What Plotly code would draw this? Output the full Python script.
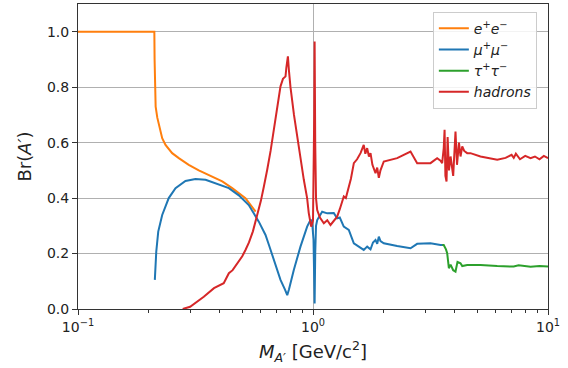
import plotly.graph_objects as go

# ---- data (mass in GeV, branching ratio) ----
ee_m = [0.1, 0.2113, 0.2118, 0.2125, 0.214, 0.2175, 0.2208, 0.2282, 0.2357, 0.2516,
        0.2685, 0.296, 0.3266, 0.3722, 0.411, 0.453, 0.516, 0.57]
ee_br = [1.0, 1.0, 0.90, 0.80, 0.73, 0.69, 0.664, 0.616, 0.592, 0.562,
         0.544, 0.52, 0.50, 0.478, 0.46, 0.436, 0.40, 0.351]

mu_m = [0.2123, 0.2153, 0.2195, 0.2282, 0.2433, 0.26, 0.2866, 0.316, 0.349, 0.3847,
        0.4385, 0.4835, 0.533, 0.588, 0.628, 0.65, 0.6815, 0.7273, 0.76, 0.777,
        0.79, 0.8285, 0.8845, 0.9443, 0.975, 0.99, 1.005, 1.012, 1.016, 1.022,
        1.03, 1.042, 1.094, 1.15, 1.226, 1.267, 1.30, 1.352, 1.42, 1.492,
        1.593, 1.644, 1.70, 1.757, 1.80, 1.845, 1.876, 1.906, 1.937, 2.001,
        2.281, 2.60, 2.775, 3.162, 3.489, 3.604]
mu_br = [0.105, 0.207, 0.279, 0.339, 0.40, 0.436, 0.462, 0.469, 0.466, 0.454,
         0.436, 0.41, 0.375, 0.315, 0.267, 0.23, 0.177, 0.105, 0.07, 0.05,
         0.07, 0.141, 0.225, 0.297, 0.321, 0.32, 0.25, 0.05, 0.02, 0.2,
         0.30, 0.321, 0.351, 0.345, 0.346, 0.327, 0.33, 0.297, 0.285, 0.237,
         0.22, 0.213, 0.225, 0.215, 0.24, 0.249, 0.235, 0.261, 0.245, 0.237,
         0.227, 0.219, 0.235, 0.237, 0.231, 0.231]

tau_m = [3.55, 3.60, 3.68, 3.724, 3.76, 3.786, 3.85, 3.95, 4.04, 4.12,
         4.244, 4.316, 4.531, 5.16, 6.08, 7.15, 7.5, 8.43, 9.2, 10.0]
tau_br = [0.231, 0.231, 0.215, 0.201, 0.17, 0.147, 0.16, 0.14, 0.135, 0.17,
          0.165, 0.155, 0.159, 0.159, 0.155, 0.153, 0.158, 0.152, 0.155, 0.153]

had_m = [0.279, 0.30, 0.343, 0.379, 0.417, 0.43, 0.4385, 0.455, 0.476, 0.50,
         0.516, 0.534, 0.555, 0.575, 0.59, 0.60, 0.618, 0.625, 0.6385, 0.66,
         0.6815, 0.70, 0.7273, 0.745, 0.764, 0.77, 0.782, 0.79, 0.802, 0.83,
         0.856, 0.885, 0.914, 0.944, 0.9594, 0.9823, 1.0, 1.012, 1.016, 1.022,
         1.03, 1.042, 1.07, 1.112, 1.15, 1.187, 1.226, 1.267, 1.30, 1.352,
         1.38, 1.42, 1.45, 1.492, 1.54, 1.593, 1.62, 1.644, 1.67, 1.70,
         1.73, 1.757, 1.79, 1.82, 1.845, 1.876, 1.906, 1.937, 2.001, 2.281,
         2.60, 2.775, 3.162, 3.375, 3.489, 3.545, 3.60, 3.63, 3.66, 3.70,
         3.74, 3.79, 3.85, 3.95, 4.04, 4.10, 4.18, 4.244, 4.316, 4.40,
         4.531, 4.677, 5.16, 6.08, 6.6, 7.0, 7.15, 7.3, 7.6, 8.0,
         8.43, 8.8, 9.2, 9.6, 10.0]
had_br = [0.0, 0.008, 0.044, 0.075, 0.093, 0.115, 0.129, 0.14, 0.165, 0.19,
          0.213, 0.24, 0.28, 0.33, 0.36, 0.39, 0.442, 0.46, 0.502, 0.57,
          0.646, 0.72, 0.803, 0.83, 0.839, 0.87, 0.911, 0.86, 0.80, 0.70,
          0.622, 0.54, 0.466, 0.40, 0.346, 0.297, 0.32, 0.7, 0.965, 0.6,
          0.40, 0.357, 0.33, 0.309, 0.32, 0.303, 0.32, 0.333, 0.36, 0.406,
          0.40, 0.442, 0.47, 0.526, 0.54, 0.562, 0.58, 0.592, 0.56, 0.58,
          0.55, 0.562, 0.52, 0.50, 0.49, 0.51, 0.473, 0.50, 0.532, 0.544,
          0.568, 0.526, 0.526, 0.544, 0.535, 0.526, 0.58, 0.646, 0.48, 0.46,
          0.62, 0.50, 0.55, 0.48, 0.64, 0.52, 0.60, 0.55, 0.586, 0.57,
          0.562, 0.562, 0.55, 0.538, 0.545, 0.556, 0.545, 0.56, 0.54, 0.552,
          0.544, 0.55, 0.54, 0.552, 0.544]

x_tickvals = [0.1, 1, 10]
x_ticktext = ["10<sup>\u22121</sup>", "10<sup>0</sup>", "10<sup>1</sup>"]
x_minor = [0.2, 0.3, 0.4, 0.5, 0.6, 0.7, 0.8, 0.9, 2, 3, 4, 5, 6, 7, 8, 9]
y_tickvals = [0.0, 0.2, 0.4, 0.6, 0.8, 1.0]

fig = go.Figure()
fig.add_trace(go.Scatter(x=ee_m, y=ee_br, mode="lines",
                         line=dict(color="#ff7f0e", width=2),
                         name="<i>e</i><sup>+</sup><i>e</i><sup>\u2212</sup>"))
fig.add_trace(go.Scatter(x=mu_m, y=mu_br, mode="lines",
                         line=dict(color="#1f77b4", width=2),
                         name="<i>\u03bc</i><sup>+</sup><i>\u03bc</i><sup>\u2212</sup>"))
fig.add_trace(go.Scatter(x=tau_m, y=tau_br, mode="lines",
                         line=dict(color="#2ca02c", width=2),
                         name="<i>\u03c4</i><sup>+</sup><i>\u03c4</i><sup>\u2212</sup>"))
fig.add_trace(go.Scatter(x=had_m, y=had_br, mode="lines",
                         line=dict(color="#d62728", width=2),
                         name="<i>hadrons</i>"))

fig.update_layout(
    width=568, height=368,
    margin=dict(l=78, r=20, t=4, b=59),
    paper_bgcolor="white", plot_bgcolor="white",
    font=dict(family="DejaVu Sans", size=14, color="#222"),
    showlegend=True,
    legend=dict(x=0.755, y=0.975, xanchor="left", yanchor="top",
                bgcolor="rgba(255,255,255,0.85)", bordercolor="#cccccc", borderwidth=1,
                font=dict(size=14), tracegroupgap=0, itemwidth=30),
)
fig.update_xaxes(
    type="log", range=[-1, 1],
    tickvals=x_tickvals, ticktext=x_ticktext,
    ticks="outside", ticklen=5, tickcolor="#333",
    showgrid=True, gridcolor="#b0b0b0", gridwidth=1,
    showline=True, linecolor="#333", linewidth=1, mirror=True,
    minor=dict(tickvals=x_minor, ticks="outside", ticklen=3, tickcolor="#333", showgrid=False),
    title=dict(text="<i>M</i><sub><i>A\u2032</i></sub> [GeV/c<sup>2</sup>]", font=dict(size=18), standoff=11),
    zeroline=False,
)
fig.update_yaxes(
    range=[0, 1.1],
    tickvals=y_tickvals, tickformat=".1f",
    ticks="outside", ticklen=5, tickcolor="#333",
    showgrid=True, gridcolor="#b0b0b0", gridwidth=1,
    showline=True, linecolor="#333", linewidth=1, mirror=True,
    title=dict(text="Br(<i>A\u2032</i>)", font=dict(size=18), standoff=10),
    zeroline=False,
)

fig.write_html("out.html")
